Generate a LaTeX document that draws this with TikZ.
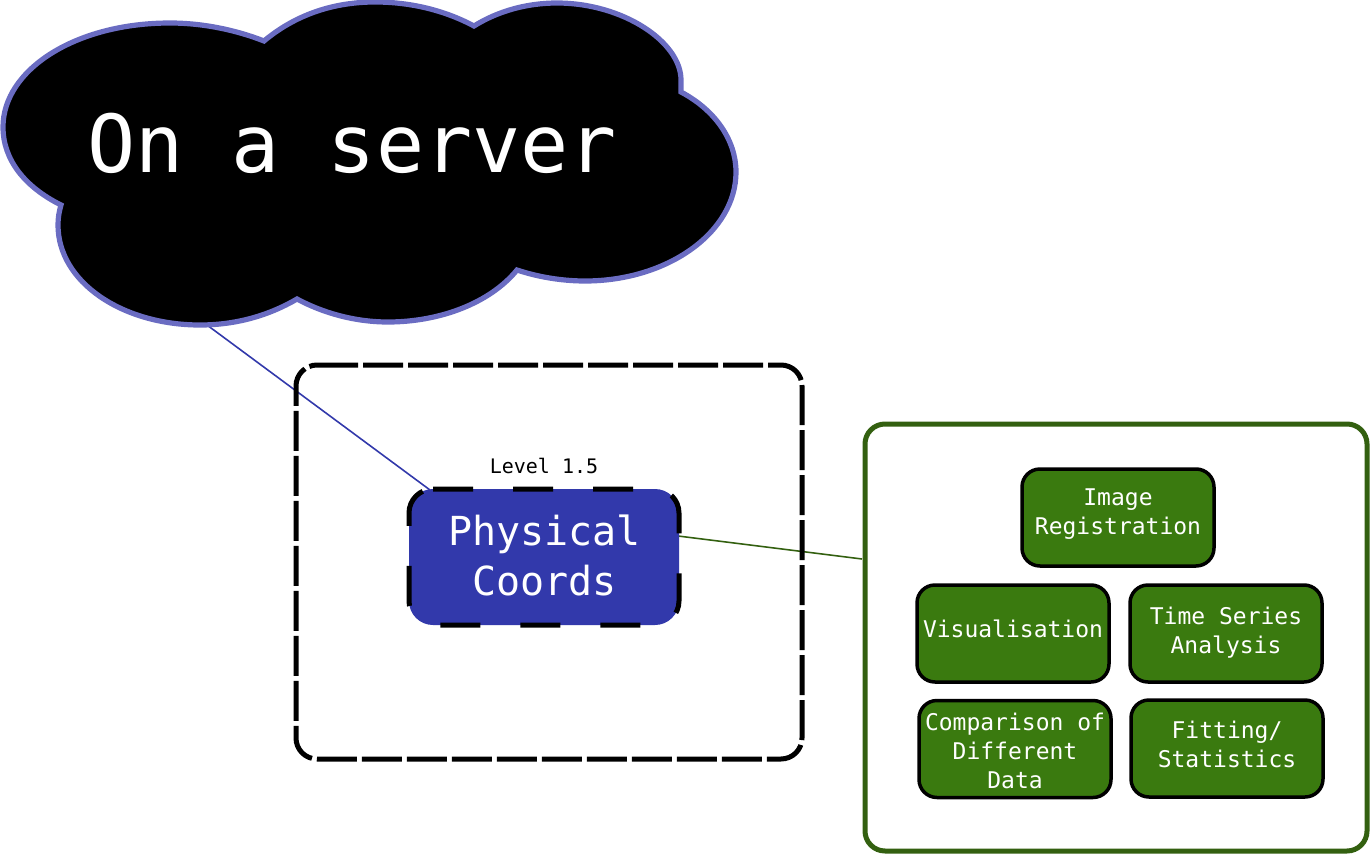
\documentclass[tikz,border=0pt]{standalone}
\usepackage{fontspec}
\setmainfont{DejaVu Sans Mono}
\usetikzlibrary{calc}
\definecolor{cloudedge}{HTML}{6A6CC2}
\definecolor{physblue}{HTML}{3239AB}
\definecolor{panelgreen}{HTML}{336010}
\definecolor{boxgreen}{HTML}{3A7A0F}
\tikzset{
  x=1pt,y=-1pt,
  cloudshape/.style={draw=cloudedge,fill=black,line width=5.2pt,line join=miter},
  cloudtext/.style={text=white,font=\fontsize{80}{96}\selectfont,anchor=base,inner sep=0pt},
  bluelink/.style={draw=physblue,line width=1.6pt},
  greenlink/.style={draw=panelgreen,line width=1.6pt},
  outerbox/.style={draw=black,line width=5pt,dash pattern=on 40pt off 5pt},
  physbox/.style={fill=physblue,rounded corners=24pt,minimum width=270pt,minimum height=136pt,inner sep=0pt,outer sep=0pt},
  physdash/.style={draw=black,line width=5pt,dash pattern=on 40pt off 40pt},
  phystext/.style={text=white,font=\fontsize{40}{50}\selectfont,align=center,inner sep=0pt},
  leveltext/.style={font=\fontsize{20}{24}\selectfont,anchor=base,inner sep=0pt},
  panel/.style={draw=panelgreen,fill=white,line width=5pt,rounded corners=20pt,minimum width=502pt,minimum height=427pt,inner sep=0pt,outer sep=0pt},
  taskbox/.style={draw=black,fill=boxgreen,line width=3.5pt,rounded corners=18pt,minimum width=192pt,minimum height=97pt,inner sep=0pt,outer sep=0pt},
  tasktext/.style={text=white,font=\fontsize{23}{29}\selectfont,align=center,inner sep=0pt},
}
\begin{document}
\begin{tikzpicture}
\useasboundingbox (0,0) rectangle (1371,854);
\coordinate (cloudfoot) at (207,325);
\coordinate (physnw) at (430,490);
\coordinate (physe) at (678,536);
\coordinate (panelw) at (862,559);
\draw[bluelink] (cloudfoot) -- (physnw);
\draw[greenlink] (physe) -- (panelw);
% cloud
\draw[cloudshape] (61,205) .. controls (25,187) and (3,160) .. (3,127)
  .. controls (3,70) and (75,23) .. (170,23)
  .. controls (203,23) and (236,30) .. (264,41)
  .. controls (295,15) and (333,2) .. (375,2)
  .. controls (412,2) and (446,11) .. (474,26)
  .. controls (498,11) and (527,3) .. (557,3)
  .. controls (623,3) and (681,42) .. (681,80)
  .. controls (681,84) and (681,88) .. (681,92)
  .. controls (715,110) and (736,140) .. (736,172)
  .. controls (736,232) and (668,281) .. (585,281)
  .. controls (562,281) and (538,277) .. (517,270)
  .. controls (490,303) and (440,322) .. (388,322)
  .. controls (355,322) and (323,313) .. (297,299)
  .. controls (268,316) and (235,325) .. (200,325)
  .. controls (122,325) and (58,282) .. (58,225)
  .. controls (58,218) and (59,212) .. (61,205) -- cycle;
\node[cloudtext] (server) at (352,172) {On a server};
% dashed outer box
\draw[outerbox] (318,365) -- (781,365)
  .. controls (792.6,365) and (802,374.4) .. (802,386) -- (802,738)
  .. controls (802,749.6) and (792.6,759) .. (781,759) -- (317,759)
  .. controls (305.4,759) and (296,749.6) .. (296,738) -- (296,386)
  .. controls (296,374.4) and (305.4,365) .. (317,365) -- cycle;
% physical coords
\node[physbox] (phys) at (544,557) {};
\draw[physdash] (433,489) -- (655,489)
  .. controls (668.26,489) and (679,499.74) .. (679,513) -- (679,601)
  .. controls (679,614.26) and (668.26,625) .. (655,625) -- (433,625)
  .. controls (419.74,625) and (409,614.26) .. (409,601) -- (409,513)
  .. controls (409,499.74) and (419.74,489) .. (433,489) -- cycle;
\node[phystext] (physlabel) at (544.5,555) {Physical\\Coords};
\node[leveltext] (level) at (544,473) {Level 1.5};
% panel
\node[panel] (panel) at (1116,637.5) {};
% tasks
\node[taskbox] (reg) at (1118,517.5) {};
\node[tasktext] (regt) at (1118,514) {Image\\Registration};
\node[taskbox] (vis) at (1013,633.5) {};
\node[tasktext] (vist) at (1013,629) {Visualisation};
\node[taskbox] (time) at (1226,633.5) {};
\node[tasktext] (timet) at (1226,632.5) {Time Series\\Analysis};
\node[taskbox] (comp) at (1015,749) {};
\node[tasktext] (compt) at (1015,751) {Comparison of\\Different\\Data};
\node[taskbox] (fit) at (1227,748.5) {};
\node[tasktext] (fitt) at (1227,744.5) {Fitting/\\Statistics};
\end{tikzpicture}
\end{document}
